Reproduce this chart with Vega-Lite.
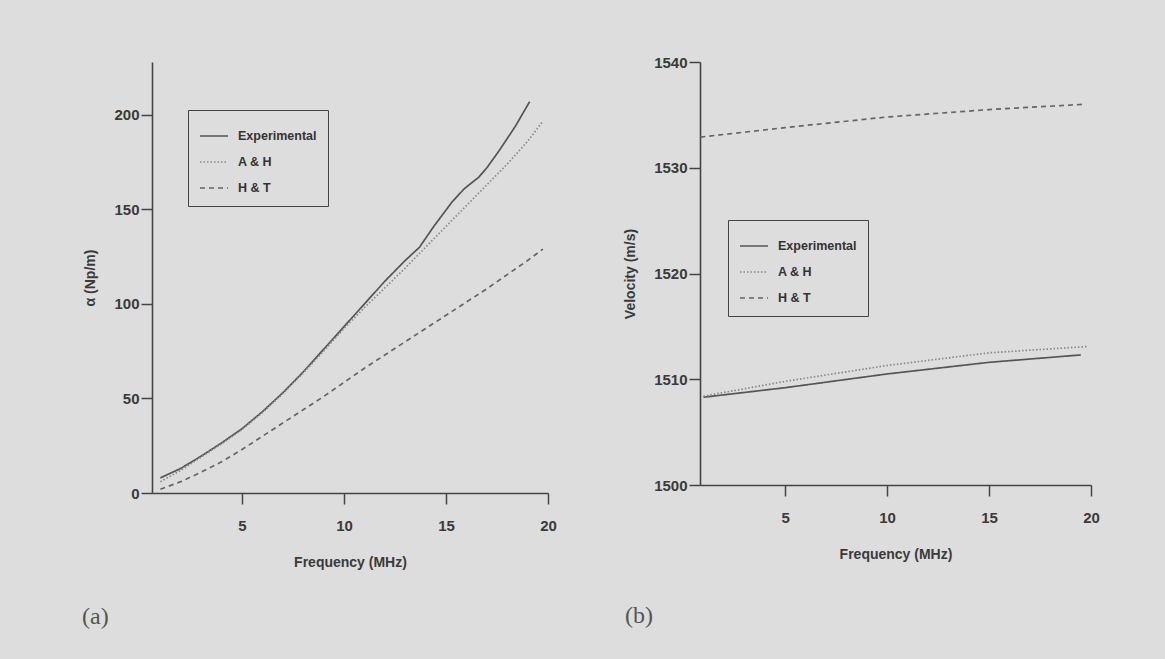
{
  "$schema": "https://vega.github.io/schema/vega-lite/v6.json",
  "background": "#dddddd",
  "padding": {"left": 82, "top": 55, "right": 65, "bottom": 32},
  "datasets": {
    "attenuation": [
      {"model": "Experimental", "f": 1.0, "value": 8},
      {"model": "Experimental", "f": 2.0, "value": 13},
      {"model": "Experimental", "f": 3.0, "value": 19.5},
      {"model": "Experimental", "f": 4.0, "value": 26.5},
      {"model": "Experimental", "f": 5.0, "value": 34},
      {"model": "Experimental", "f": 6.0, "value": 43},
      {"model": "Experimental", "f": 7.0, "value": 53},
      {"model": "Experimental", "f": 8.0, "value": 64},
      {"model": "Experimental", "f": 9.0, "value": 76},
      {"model": "Experimental", "f": 10.0, "value": 88},
      {"model": "Experimental", "f": 11.0, "value": 100},
      {"model": "Experimental", "f": 12.0, "value": 112},
      {"model": "Experimental", "f": 13.0, "value": 123},
      {"model": "Experimental", "f": 13.7, "value": 130},
      {"model": "Experimental", "f": 14.4, "value": 141},
      {"model": "Experimental", "f": 15.3, "value": 154},
      {"model": "Experimental", "f": 15.9, "value": 161},
      {"model": "Experimental", "f": 16.6, "value": 167},
      {"model": "Experimental", "f": 17.0, "value": 172},
      {"model": "Experimental", "f": 17.6, "value": 181},
      {"model": "Experimental", "f": 18.4, "value": 194},
      {"model": "Experimental", "f": 19.1, "value": 207},
      {"model": "A & H", "f": 1.0, "value": 6},
      {"model": "A & H", "f": 2.0, "value": 12},
      {"model": "A & H", "f": 3.0, "value": 19},
      {"model": "A & H", "f": 4.0, "value": 26},
      {"model": "A & H", "f": 5.0, "value": 33.5},
      {"model": "A & H", "f": 6.0, "value": 42.5},
      {"model": "A & H", "f": 7.0, "value": 52.5},
      {"model": "A & H", "f": 8.0, "value": 63.5},
      {"model": "A & H", "f": 9.0, "value": 75},
      {"model": "A & H", "f": 10.0, "value": 87},
      {"model": "A & H", "f": 11.0, "value": 98},
      {"model": "A & H", "f": 12.0, "value": 108.5},
      {"model": "A & H", "f": 13.0, "value": 119},
      {"model": "A & H", "f": 14.0, "value": 130},
      {"model": "A & H", "f": 15.0, "value": 141},
      {"model": "A & H", "f": 16.0, "value": 152},
      {"model": "A & H", "f": 17.0, "value": 163},
      {"model": "A & H", "f": 18.0, "value": 174},
      {"model": "A & H", "f": 19.0, "value": 186},
      {"model": "A & H", "f": 19.7, "value": 196},
      {"model": "H & T", "f": 1.0, "value": 2},
      {"model": "H & T", "f": 2.0, "value": 6},
      {"model": "H & T", "f": 3.0, "value": 11},
      {"model": "H & T", "f": 4.0, "value": 16.5},
      {"model": "H & T", "f": 5.0, "value": 23},
      {"model": "H & T", "f": 6.0, "value": 30},
      {"model": "H & T", "f": 7.0, "value": 37},
      {"model": "H & T", "f": 8.0, "value": 44},
      {"model": "H & T", "f": 9.0, "value": 51},
      {"model": "H & T", "f": 10.0, "value": 58.5},
      {"model": "H & T", "f": 11.0, "value": 66},
      {"model": "H & T", "f": 12.0, "value": 73},
      {"model": "H & T", "f": 13.0, "value": 80},
      {"model": "H & T", "f": 14.0, "value": 87},
      {"model": "H & T", "f": 15.0, "value": 94},
      {"model": "H & T", "f": 16.0, "value": 101},
      {"model": "H & T", "f": 17.0, "value": 108},
      {"model": "H & T", "f": 18.0, "value": 115.5},
      {"model": "H & T", "f": 19.0, "value": 123},
      {"model": "H & T", "f": 19.75, "value": 129}
    ],
    "velocity": [
      {"model": "Experimental", "f": 1.0, "value": 1508.3},
      {"model": "Experimental", "f": 5.0, "value": 1509.2},
      {"model": "Experimental", "f": 10.0, "value": 1510.5},
      {"model": "Experimental", "f": 15.0, "value": 1511.6},
      {"model": "Experimental", "f": 19.5, "value": 1512.3},
      {"model": "A & H", "f": 1.0, "value": 1508.4},
      {"model": "A & H", "f": 5.0, "value": 1509.8},
      {"model": "A & H", "f": 10.0, "value": 1511.3},
      {"model": "A & H", "f": 15.0, "value": 1512.5},
      {"model": "A & H", "f": 19.85, "value": 1513.1},
      {"model": "H & T", "f": 0.85, "value": 1532.9},
      {"model": "H & T", "f": 5.0, "value": 1533.8},
      {"model": "H & T", "f": 10.0, "value": 1534.8},
      {"model": "H & T", "f": 15.0, "value": 1535.5},
      {"model": "H & T", "f": 19.7, "value": 1536.0}
    ]
  },
  "spacing": 152,
  "bounds": "flush",
  "hconcat": [
    {
      "width": 396,
      "height": 431,
      "title": {"text": "(a)", "orient": "bottom", "anchor": "start", "frame": "group", "dx": -70, "offset": 36},
      "data": {"name": "attenuation"},
      "mark": {"type": "line", "strokeWidth": 1.7, "clip": true},
      "encoding": {
        "x": {
          "field": "f", "type": "quantitative",
          "scale": {"domain": [0.59, 20], "nice": false, "zero": false},
          "axis": {"values": [5, 10, 15, 20], "title": "Frequency (MHz)"}
        },
        "y": {
          "field": "value", "type": "quantitative",
          "scale": {"domain": [0, 228], "nice": false},
          "axis": {"values": [0, 50, 100, 150, 200], "format": "d", "title": "α (Np/m)"}
        },
        "color": {
          "field": "model", "type": "nominal",
          "scale": {"domain": ["Experimental", "A & H", "H & T"], "range": ["#555555", "#888888", "#666666"]},
          "legend": {"title": null, "orient": "none", "legendX": 36, "legendY": 48}
        },
        "strokeDash": {
          "field": "model", "type": "nominal",
          "scale": {"domain": ["Experimental", "A & H", "H & T"], "range": [[1, 0], [1.5, 2], [5, 4]]},
          "legend": {"title": null, "orient": "none", "legendX": 36, "legendY": 48}
        }
      }
    },
    {
      "width": 391,
      "height": 423,
      "title": {"text": "(b)", "orient": "bottom", "anchor": "start", "frame": "group", "dx": -75, "offset": 43},
      "data": {"name": "velocity"},
      "mark": {"type": "line", "strokeWidth": 1.7, "clip": true},
      "encoding": {
        "x": {
          "field": "f", "type": "quantitative",
          "scale": {"domain": [0.83, 20], "nice": false, "zero": false},
          "axis": {"values": [5, 10, 15, 20], "title": "Frequency (MHz)"}
        },
        "y": {
          "field": "value", "type": "quantitative",
          "scale": {"domain": [1500, 1540], "nice": false, "zero": false},
          "axis": {"values": [1500, 1510, 1520, 1530, 1540], "format": "d", "title": "Velocity (m/s)"}
        },
        "color": {
          "field": "model", "type": "nominal",
          "scale": {"domain": ["Experimental", "A & H", "H & T"], "range": ["#555555", "#888888", "#666666"]},
          "legend": {"title": null, "orient": "none", "legendX": 28, "legendY": 158}
        },
        "strokeDash": {
          "field": "model", "type": "nominal",
          "scale": {"domain": ["Experimental", "A & H", "H & T"], "range": [[1, 0], [1.5, 2], [5, 4]]},
          "legend": {"title": null, "orient": "none", "legendX": 28, "legendY": 158}
        }
      }
    }
  ],
  "resolve": {
    "scale": {"x": "independent", "y": "independent", "color": "independent", "strokeDash": "independent"},
    "legend": {"color": "independent", "strokeDash": "independent"}
  },
  "config": {
    "view": {"stroke": null},
    "font": "Liberation Sans",
    "axis": {
      "grid": false,
      "domainColor": "#444444",
      "domainWidth": 1.6,
      "tickColor": "#444444",
      "tickWidth": 1.5,
      "tickSize": 11,
      "labelFont": "Liberation Sans",
      "labelFontSize": 15,
      "labelFontWeight": "bold",
      "labelColor": "#3a3a3a",
      "labelFlush": false,
      "labelOverlap": false,
      "titleFont": "Liberation Sans",
      "titleFontSize": 14,
      "titleFontWeight": "bold",
      "titleColor": "#3a3a3a"
    },
    "axisX": {"labelPadding": 14, "titlePadding": 22},
    "axisY": {"labelPadding": 2, "titlePadding": 16},
    "legend": {
      "symbolType": "stroke",
      "symbolSize": 784,
      "symbolStrokeWidth": 1.6,
      "labelFont": "Liberation Sans",
      "labelFontSize": 12.5,
      "labelFontWeight": "bold",
      "labelColor": "#333333",
      "labelOffset": 9,
      "padding": 11,
      "rowPadding": 4,
      "strokeColor": "#444444",
      "cornerRadius": 0
    },
    "title": {
      "font": "Liberation Serif",
      "fontSize": 24,
      "fontWeight": "normal",
      "color": "#555555",
      "baseline": "top"
    }
  }
}
